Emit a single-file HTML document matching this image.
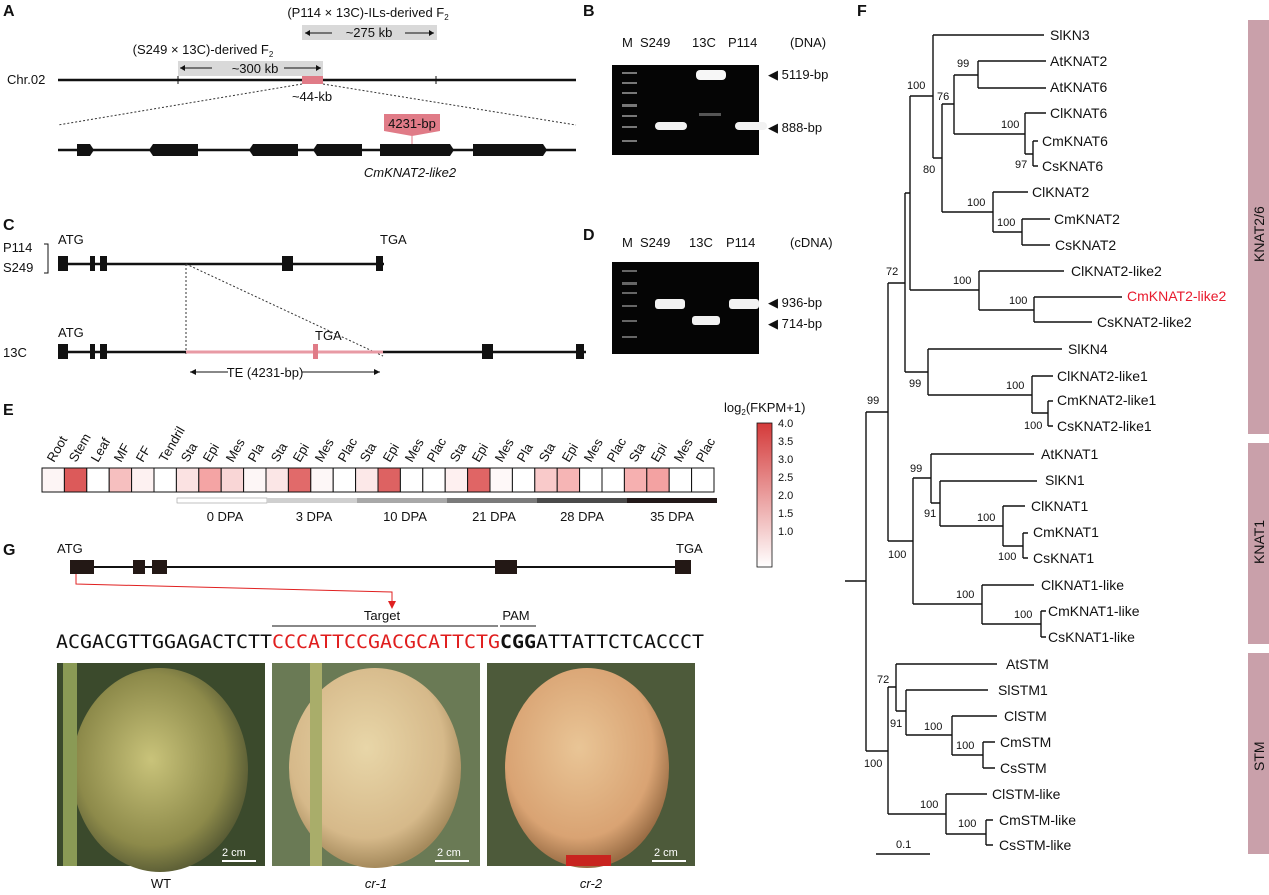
<!DOCTYPE html><html><head><meta charset="utf-8"><style>
body{margin:0;background:#fff}
svg{display:block;font-family:"Liberation Sans",Arial,sans-serif}
</style></head><body>
<svg width="1269" height="895" viewBox="0 0 1269 895" xmlns="http://www.w3.org/2000/svg">
<defs>
<linearGradient id="cb" x1="0" y1="0" x2="0" y2="1"><stop offset="0" stop-color="#d43a3a"/><stop offset="1" stop-color="#ffffff"/></linearGradient>
<radialGradient id="m1" cx="0.45" cy="0.45" r="0.6"><stop offset="0" stop-color="#c9c37a"/><stop offset="0.7" stop-color="#8d8a4a"/><stop offset="1" stop-color="#4e5230"/></radialGradient>
<radialGradient id="m2" cx="0.45" cy="0.4" r="0.6"><stop offset="0" stop-color="#e8d6a8"/><stop offset="0.75" stop-color="#d6b98a"/><stop offset="1" stop-color="#a58a5c"/></radialGradient>
<radialGradient id="m3" cx="0.45" cy="0.4" r="0.6"><stop offset="0" stop-color="#e9c596"/><stop offset="0.75" stop-color="#d9a373"/><stop offset="1" stop-color="#9a6d45"/></radialGradient>
</defs>
<g font-size="13" fill="#111">
<g font-weight="bold" font-size="16"><text x="3" y="16">A</text><text x="583" y="16">B</text><text x="3" y="230">C</text><text x="583" y="240">D</text><text x="3" y="415">E</text><text x="3" y="555">G</text><text x="857" y="16">F</text></g>

<!-- Panel A -->
<text x="368" y="17" text-anchor="middle">(P114 × 13C)-ILs-derived F<tspan font-size="8" dy="3">2</tspan></text>
<rect x="302" y="25" width="135" height="15" fill="#d9d9d9"/>
<text x="369" y="37" text-anchor="middle">~275 kb</text>
<path d="M305 33H332M405 33H434" stroke="#111"/><path d="M305 33l5-3v6z M434 33l-5-3v6z" fill="#111"/>
<text x="203" y="54" text-anchor="middle">(S249 × 13C)-derived F<tspan font-size="8" dy="3">2</tspan></text>
<rect x="178" y="61" width="145" height="15" fill="#d9d9d9"/>
<text x="255" y="73" text-anchor="middle">~300 kb</text>
<path d="M180 68H212M284 68H321" stroke="#111"/><path d="M180 68l5-3v6z M321 68l-5-3v6z" fill="#111"/>
<text x="7" y="84">Chr.02</text>
<line x1="58" y1="80" x2="576" y2="80" stroke="#111" stroke-width="2.5"/>
<path d="M178 76v8M436 76v8" stroke="#111"/>
<rect x="302" y="76" width="21" height="8" fill="#e07b87"/>
<text x="312" y="101" text-anchor="middle">~44-kb</text>
<path d="M302 84L58 125M323 84L576 125" stroke="#333" stroke-dasharray="2,2"/>
<line x1="58" y1="150" x2="576" y2="150" stroke="#111" stroke-width="2.5"/>
<g fill="#111" transform="translate(0,-52)">
<path d="M77 196h13l4 6-4 6h-13z"/><path d="M153 196h45v12h-45l-4-6z"/><path d="M253 196h45v12h-45l-4-6z"/><path d="M317 196h45v12h-45l-4-6z"/><path d="M380 196h70l4 6-4 6h-70z"/><path d="M473 196h70l4 6-4 6h-70z"/>
</g>
<path d="M384 114h56v17l-28 5-28-5z" fill="#e07b87"/>
<line x1="412" y1="136" x2="412" y2="144" stroke="#e07b87"/>
<text x="412" y="128" text-anchor="middle">4231-bp</text>
<text x="410" y="177" text-anchor="middle" font-style="italic">CmKNAT2-like2</text>

<!-- Panel B -->
<text x="622" y="47">M</text><text x="640" y="47">S249</text><text x="692" y="47">13C</text><text x="728" y="47">P114</text><text x="790" y="47">(DNA)</text>
<rect x="612" y="65" width="147" height="90" fill="#050505"/>
<g fill="#777"><rect x="622" y="72" width="15" height="2"/><rect x="622" y="82" width="15" height="2"/><rect x="622" y="92" width="15" height="2"/><rect x="622" y="104" width="15" height="3"/><rect x="622" y="115" width="15" height="2"/><rect x="622" y="126" width="15" height="2"/><rect x="622" y="140" width="15" height="2"/></g>
<rect x="655" y="122" width="32" height="8" rx="4" fill="#f2f2f2"/><rect x="696" y="70" width="30" height="10" rx="4" fill="#f7f7f7"/><rect x="699" y="113" width="22" height="3" fill="#555"/><rect x="735" y="122" width="32" height="8" rx="4" fill="#f2f2f2"/>
<text x="768" y="79">◀ 5119-bp</text><text x="768" y="132">◀ 888-bp</text>

<!-- Panel C -->
<text x="3" y="252">P114</text><text x="3" y="272">S249</text>
<path d="M44 244h4v29h-4" stroke="#111" fill="none"/>
<text x="58" y="244">ATG</text><text x="380" y="244">TGA</text>
<line x1="58" y1="264" x2="384" y2="264" stroke="#111" stroke-width="2.5"/>
<g fill="#111"><rect x="58" y="256" width="10" height="15"/><rect x="90" y="256" width="5" height="15"/><rect x="100" y="256" width="7" height="15"/><rect x="282" y="256" width="11" height="15"/><rect x="376" y="256" width="7" height="15"/></g>
<path d="M186 264L186 356M186 264L383 356" stroke="#333" stroke-dasharray="2,2"/>
<text x="3" y="357">13C</text>
<text x="58" y="337">ATG</text><text x="315" y="340">TGA</text>
<line x1="58" y1="352" x2="586" y2="352" stroke="#111" stroke-width="2.5"/>
<line x1="186" y1="352" x2="383" y2="352" stroke="#e89aa4" stroke-width="3"/>
<rect x="313" y="344" width="5" height="15" fill="#e07b87"/>
<g fill="#111"><rect x="58" y="344" width="10" height="15"/><rect x="90" y="344" width="5" height="15"/><rect x="100" y="344" width="7" height="15"/><rect x="482" y="344" width="11" height="15"/><rect x="576" y="344" width="8" height="15"/></g>
<path d="M190 372H228M302 372H380" stroke="#111"/><path d="M190 372l6-3v6zM380 372l-6-3v6z" fill="#111"/>
<text x="265" y="377" text-anchor="middle">TE (4231-bp)</text>

<!-- Panel D -->
<text x="622" y="247">M</text><text x="640" y="247">S249</text><text x="689" y="247">13C</text><text x="726" y="247">P114</text><text x="790" y="247">(cDNA)</text>
<rect x="612" y="262" width="147" height="92" fill="#050505"/>
<g fill="#666"><rect x="622" y="270" width="15" height="2"/><rect x="622" y="282" width="15" height="3"/><rect x="622" y="292" width="15" height="2"/><rect x="622" y="305" width="15" height="2"/><rect x="622" y="320" width="15" height="2"/><rect x="622" y="336" width="15" height="2"/></g>
<rect x="655" y="299" width="30" height="10" rx="3" fill="#f2f2f2"/><rect x="692" y="316" width="28" height="9" rx="3" fill="#f2f2f2"/><rect x="729" y="299" width="30" height="10" rx="3" fill="#f2f2f2"/>
<text x="768" y="307">◀ 936-bp</text><text x="768" y="328">◀ 714-bp</text>

<!-- Panel E heatmap -->
<g font-size="13">
<g stroke="#111" stroke-width="1">
<rect x="42" y="468" width="22.4" height="24" fill="#fdf5f5"/><rect x="64.4" y="468" width="22.4" height="24" fill="#dc5a5a"/><rect x="86.8" y="468" width="22.4" height="24" fill="#fff"/><rect x="109.2" y="468" width="22.4" height="24" fill="#f6bfbf"/><rect x="131.6" y="468" width="22.4" height="24" fill="#fdf1f1"/><rect x="154" y="468" width="22.4" height="24" fill="#fff"/>
<rect x="176.4" y="468" width="22.4" height="24" fill="#fbe2e2"/><rect x="198.8" y="468" width="22.4" height="24" fill="#f4a4a4"/><rect x="221.2" y="468" width="22.4" height="24" fill="#f9d6d6"/><rect x="243.6" y="468" width="22.4" height="24" fill="#fdf6f6"/>
<rect x="266" y="468" width="22.4" height="24" fill="#fbe6e6"/><rect x="288.4" y="468" width="22.4" height="24" fill="#e16a6a"/><rect x="310.8" y="468" width="22.4" height="24" fill="#fdf7f7"/><rect x="333.2" y="468" width="22.4" height="24" fill="#fff"/>
<rect x="355.6" y="468" width="22.4" height="24" fill="#fce8e8"/><rect x="378" y="468" width="22.4" height="24" fill="#dd6262"/><rect x="400.4" y="468" width="22.4" height="24" fill="#fff"/><rect x="422.8" y="468" width="22.4" height="24" fill="#fff"/>
<rect x="445.2" y="468" width="22.4" height="24" fill="#fef0f0"/><rect x="467.6" y="468" width="22.4" height="24" fill="#e06565"/><rect x="490" y="468" width="22.4" height="24" fill="#fef8f8"/><rect x="512.4" y="468" width="22.4" height="24" fill="#fff"/>
<rect x="534.8" y="468" width="22.4" height="24" fill="#f9caca"/><rect x="557.2" y="468" width="22.4" height="24" fill="#f6b5b5"/><rect x="579.6" y="468" width="22.4" height="24" fill="#fff"/><rect x="602" y="468" width="22.4" height="24" fill="#fff"/>
<rect x="624.4" y="468" width="22.4" height="24" fill="#f6b0b0"/><rect x="646.8" y="468" width="22.4" height="24" fill="#f3a2a2"/><rect x="669.2" y="468" width="22.4" height="24" fill="#fff"/><rect x="691.6" y="468" width="22.4" height="24" fill="#fff"/>
</g>
<g>
<text transform="translate(54,463) rotate(-60)">Root</text><text transform="translate(76,463) rotate(-60)">Stem</text><text transform="translate(98,463) rotate(-60)">Leaf</text><text transform="translate(121,463) rotate(-60)">MF</text><text transform="translate(143,463) rotate(-60)">FF</text><text transform="translate(166,463) rotate(-60)">Tendril</text>
<text transform="translate(188,463) rotate(-60)">Sta</text><text transform="translate(210,463) rotate(-60)">Epi</text><text transform="translate(233,463) rotate(-60)">Mes</text><text transform="translate(255,463) rotate(-60)">Pla</text>
<text transform="translate(278,463) rotate(-60)">Sta</text><text transform="translate(300,463) rotate(-60)">Epi</text><text transform="translate(322,463) rotate(-60)">Mes</text><text transform="translate(345,463) rotate(-60)">Plac</text>
<text transform="translate(367,463) rotate(-60)">Sta</text><text transform="translate(390,463) rotate(-60)">Epi</text><text transform="translate(412,463) rotate(-60)">Mes</text><text transform="translate(434,463) rotate(-60)">Plac</text>
<text transform="translate(457,463) rotate(-60)">Sta</text><text transform="translate(479,463) rotate(-60)">Epi</text><text transform="translate(502,463) rotate(-60)">Mes</text><text transform="translate(524,463) rotate(-60)">Pla</text>
<text transform="translate(546,463) rotate(-60)">Sta</text><text transform="translate(569,463) rotate(-60)">Epi</text><text transform="translate(591,463) rotate(-60)">Mes</text><text transform="translate(614,463) rotate(-60)">Plac</text>
<text transform="translate(636,463) rotate(-60)">Sta</text><text transform="translate(658,463) rotate(-60)">Epi</text><text transform="translate(681,463) rotate(-60)">Mes</text><text transform="translate(703,463) rotate(-60)">Plac</text>
</g>
<rect x="177" y="498" width="90" height="5" fill="#fff" stroke="#999" stroke-width="0.6"/><rect x="267" y="498" width="90" height="5" fill="#cfcfcf"/><rect x="357" y="498" width="90" height="5" fill="#a8a8a8"/><rect x="447" y="498" width="90" height="5" fill="#7a7a7a"/><rect x="537" y="498" width="90" height="5" fill="#4a4a4a"/><rect x="627" y="498" width="90" height="5" fill="#221818"/>
<text x="225" y="521" text-anchor="middle">0 DPA</text><text x="314" y="521" text-anchor="middle">3 DPA</text><text x="405" y="521" text-anchor="middle">10 DPA</text><text x="494" y="521" text-anchor="middle">21 DPA</text><text x="582" y="521" text-anchor="middle">28 DPA</text><text x="672" y="521" text-anchor="middle">35 DPA</text>
</g>
<text x="724" y="412">log<tspan font-size="8" dy="3">2</tspan><tspan dy="-3">(FKPM+1)</tspan></text>
<rect x="757" y="423" width="15" height="144" fill="url(#cb)" stroke="#111" stroke-width="0.8"/>
<g font-size="11"><text x="778" y="427">4.0</text><text x="778" y="445">3.5</text><text x="778" y="463">3.0</text><text x="778" y="481">2.5</text><text x="778" y="499">2.0</text><text x="778" y="517">1.5</text><text x="778" y="535">1.0</text></g>

<!-- Panel G -->
<text x="57" y="553">ATG</text><text x="676" y="553">TGA</text>
<line x1="70" y1="567" x2="690" y2="567" stroke="#111" stroke-width="2"/>
<g fill="#231815"><rect x="70" y="560" width="24" height="14"/><rect x="133" y="560" width="12" height="14"/><rect x="152" y="560" width="15" height="14"/><rect x="495" y="560" width="22" height="14"/><rect x="675" y="560" width="16" height="14"/></g>
<path d="M76 574V584L392 592V604" stroke="#e02020" fill="none"/><path d="M388 601l4 8 4-8z" fill="#e02020"/>
<line x1="272" y1="626" x2="498" y2="626" stroke="#111"/>
<text x="382" y="620" text-anchor="middle">Target</text>
<line x1="500" y1="626" x2="536" y2="626" stroke="#111"/>
<text x="516" y="620" text-anchor="middle">PAM</text>
<text x="56" y="648" font-family="'DejaVu Sans Mono',monospace" font-size="19" textLength="648" lengthAdjust="spacingAndGlyphs">ACGACGTTGGAGACTCTT<tspan fill="#e01e1e">CCCATTCCGACGCATTCTG</tspan><tspan font-weight="bold">CGG</tspan>ATTATTCTCACCCT</text>
<rect x="57" y="663" width="208" height="203" fill="#3b4a2c"/>
<ellipse cx="160" cy="770" rx="88" ry="102" fill="url(#m1)"/>
<rect x="63" y="663" width="14" height="203" fill="#8a9a55"/>
<rect x="272" y="663" width="208" height="203" fill="#6a7a55"/>
<ellipse cx="375" cy="768" rx="86" ry="100" fill="url(#m2)"/>
<rect x="310" y="663" width="12" height="203" fill="#a9ad6a"/>
<rect x="487" y="663" width="208" height="203" fill="#4d5a3a"/>
<ellipse cx="587" cy="768" rx="82" ry="100" fill="url(#m3)"/>
<rect x="566" y="855" width="45" height="11" fill="#c8241f"/>
<g fill="#fff" font-size="11"><rect x="222" y="860" width="34" height="2"/><text x="222" y="856">2 cm</text><rect x="435" y="860" width="34" height="2"/><text x="437" y="856">2 cm</text><rect x="652" y="860" width="34" height="2"/><text x="654" y="856">2 cm</text></g>
<text x="161" y="888" text-anchor="middle">WT</text><text x="376" y="888" text-anchor="middle" font-style="italic">cr-1</text><text x="591" y="888" text-anchor="middle" font-style="italic">cr-2</text>

<!-- Panel F tree -->
<g stroke="#111" stroke-width="1.4" fill="none">
<path d="M933 35H1044M933 35V158M910 96H933"/>
<path d="M942 104V212M933 158H942M954 75V134M942 104H954M978 61V88M954 75H978M978 61H1046M978 88H1046"/>
<path d="M1025 113V154M954 134H1025M1025 113H1046M1033 141V166M1025 154H1033M1033 141H1038M1033 166H1038"/>
<path d="M993 192V232M942 212H993M993 192H1028M1022 219V245M993 232H1022M1022 219H1050M1022 245H1050"/>
<path d="M910 96V290M910 290H979M979 271V310M979 271H1064M1034 297V322M979 310H1034M1034 297H1122M1034 322H1092"/>
<path d="M905 193V372M905 193H910M905 372H928M928 349V395M928 349H1062M1032 376V413M928 395H1032M1032 376H1053M1048 401V426M1032 413H1048M1048 401H1053M1048 426H1053"/>
<path d="M888 283V541M888 283H905M866 412H888M866 412V751M845 581H866"/>
<path d="M888 541H913M913 478V604M913 478H931M931 454V503M931 454H1034M931 503H940M940 481V526M940 481H1037M940 526H1003M1003 506V546M1003 506H1025M1003 546H1023M1023 533V558M1023 533H1028M1023 558H1028"/>
<path d="M913 604H982M982 585V624M982 585H1034M982 624H1041M1041 611V637M1041 611H1046M1041 637H1046"/>
<path d="M866 751H888M888 687V814M888 687H896M896 664V711M896 664H997M896 711H906M906 690V735M906 690H988M906 735H952M952 716V755M952 716H997M952 755H983M983 742V768M983 742H995M983 768H995"/>
<path d="M888 814H946M946 794V834M946 794H987M946 834H986M986 820V845M986 820H993M986 845H993"/>
<path d="M876 854H930"/>
</g>
<g font-size="14">
<text x="1050" y="40">SlKN3</text><text x="1050" y="66">AtKNAT2</text><text x="1050" y="92">AtKNAT6</text><text x="1050" y="118">ClKNAT6</text><text x="1042" y="146">CmKNAT6</text><text x="1042" y="171">CsKNAT6</text>
<text x="1032" y="197">ClKNAT2</text><text x="1054" y="224">CmKNAT2</text><text x="1055" y="250">CsKNAT2</text>
<text x="1071" y="276">ClKNAT2-like2</text><text x="1127" y="301" fill="#e8192c">CmKNAT2-like2</text><text x="1097" y="327">CsKNAT2-like2</text>
<text x="1068" y="354">SlKN4</text><text x="1057" y="381">ClKNAT2-like1</text><text x="1057" y="405">CmKNAT2-like1</text><text x="1057" y="431">CsKNAT2-like1</text>
<text x="1041" y="459">AtKNAT1</text><text x="1045" y="485">SlKN1</text><text x="1031" y="511">ClKNAT1</text><text x="1033" y="537">CmKNAT1</text><text x="1033" y="563">CsKNAT1</text>
<text x="1041" y="590">ClKNAT1-like</text><text x="1048" y="616">CmKNAT1-like</text><text x="1048" y="642">CsKNAT1-like</text>
<text x="1006" y="669">AtSTM</text><text x="998" y="695">SlSTM1</text><text x="1004" y="721">ClSTM</text><text x="1000" y="747">CmSTM</text><text x="1000" y="773">CsSTM</text>
<text x="992" y="799">ClSTM-like</text><text x="999" y="825">CmSTM-like</text><text x="999" y="850">CsSTM-like</text>
</g>
<g font-size="11">
<text x="907" y="89">100</text><text x="957" y="67">99</text><text x="937" y="100">76</text><text x="923" y="173">80</text><text x="1001" y="128">100</text><text x="1015" y="168">97</text>
<text x="967" y="206">100</text><text x="997" y="226">100</text><text x="953" y="284">100</text><text x="1009" y="304">100</text>
<text x="886" y="275">72</text><text x="909" y="387">99</text><text x="1006" y="389">100</text><text x="1024" y="429">100</text><text x="867" y="404">99</text>
<text x="910" y="472">99</text><text x="924" y="517">91</text><text x="977" y="521">100</text><text x="998" y="560">100</text><text x="888" y="558">100</text>
<text x="956" y="598">100</text><text x="1014" y="618">100</text>
<text x="877" y="683">72</text><text x="890" y="727">91</text><text x="924" y="730">100</text><text x="956" y="749">100</text><text x="864" y="767">100</text>
<text x="920" y="808">100</text><text x="958" y="827">100</text><text x="896" y="848">0.1</text>
</g>
<g fill="#c9a0aa"><rect x="1248" y="20" width="21" height="414"/><rect x="1248" y="443" width="21" height="201"/><rect x="1248" y="653" width="21" height="201"/></g>
<g font-size="14"><text transform="translate(1264,262) rotate(-90)">KNAT2/6</text><text transform="translate(1264,564) rotate(-90)">KNAT1</text><text transform="translate(1264,771) rotate(-90)">STM</text></g>
</g>
</svg>
</body></html>
